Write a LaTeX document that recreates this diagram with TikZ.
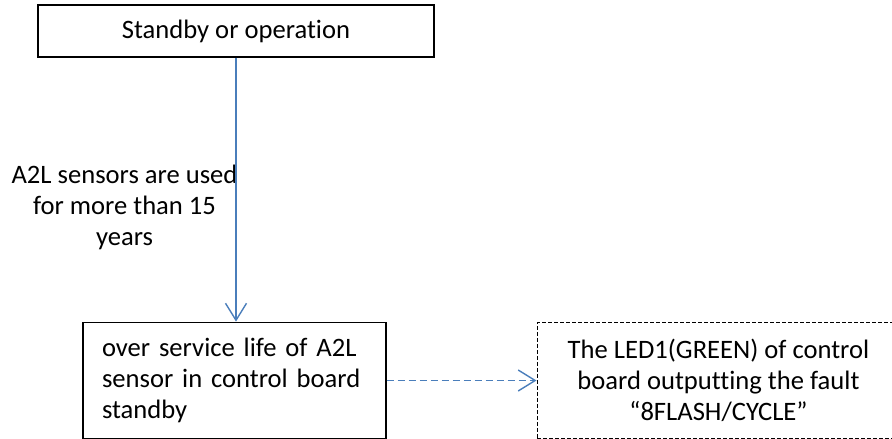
\documentclass[tikz,border=0pt]{standalone}
\usepackage{fontspec}
\setmainfont[Ligatures=NoCommon]{Carlito}
\usetikzlibrary{arrows.meta}
\definecolor{arrblue}{RGB}{74,126,187}
\tikzset{
  box/.style={draw=black, line width=1.3pt, inner sep=0pt, font=\fontsize{26.6}{31}\selectfont},
  dbox/.style={box, line width=1pt, dash pattern=on 4pt off 2pt},
  arr/.style={draw=arrblue, line width=1.5pt, -{Straight Barb[length=17pt,width=21pt,line width=1.4pt]}},
  darr/.style={arr, dash pattern=on 7pt off 4pt},
  lbl/.style={align=center, inner sep=0pt, font=\fontsize{26.6}{31}\selectfont}
}
\begin{document}
\begin{tikzpicture}[x=1pt,y=-1pt]
\clip (0,0) rectangle (892,439);
\useasboundingbox (0,0) rectangle (892,439);
\fill[white] (0,0) rectangle (892,439);
\node[box, minimum width=396pt, minimum height=52pt] (top) at (236,31) {Standby or operation};
\node[box, minimum width=303pt, minimum height=116.5pt, text width=265pt, align=left, inner xsep=19pt] (bot) at (234.5,380.5)
  {over service life of A2L\\sensor in control board\\standby};
\node[dbox, minimum width=363pt, minimum height=116.5pt, align=center] (led) at (718.5,380.5)
  {The LED1(GREEN) of control\\board outputting the fault\\“8FLASH/CYCLE”};
\node[lbl] (cond) at (124.5,207) {A2L sensors are used\\for more than 15\\years};
\draw[arr] (top.south) -- (top.south |- bot.north);
\draw[darr] (bot.east) -- (led.west);
\end{tikzpicture}
\end{document}
